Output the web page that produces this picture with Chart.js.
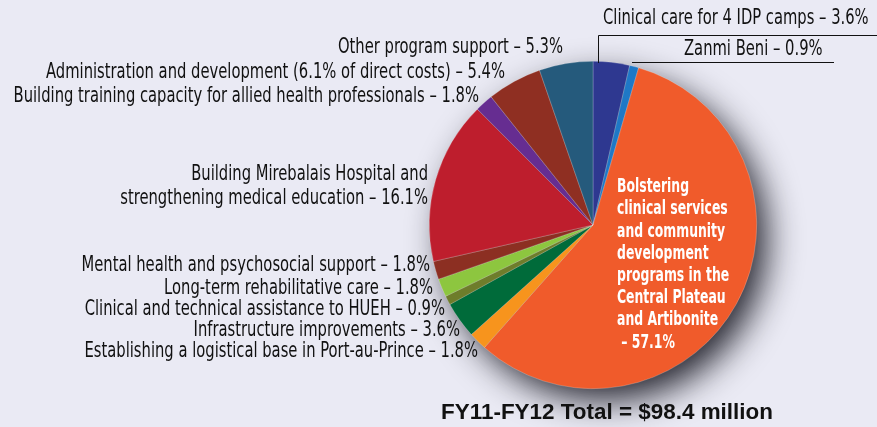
<!DOCTYPE html>
<html>
<head>
<meta charset="utf-8">
<script src="https://cdn.jsdelivr.net/npm/chart.js@4.4.0/dist/chart.umd.min.js"></script>
<style>
  html, body { margin: 0; padding: 0; background: #EAEAF4; }
  #wrap { width: 877px; height: 427px; position: relative; }
</style>
</head>
<body>
<div id="wrap"><canvas id="pie" width="877" height="427"></canvas></div>
<script>
// slices, clockwise from 12 o'clock
const categories = [
    'Clinical care for 4 IDP camps',
    'Zanmi Beni',
    'Bolstering clinical services and community development programs in the Central Plateau and Artibonite',
    'Establishing a logistical base in Port-au-Prince',
    'Infrastructure improvements',
    'Clinical and technical assistance to HUEH',
    'Long-term rehabilitative care',
    'Mental health and psychosocial support',
    'Building Mirebalais Hospital and strengthening medical education',
    'Building training capacity for allied health professionals',
    'Administration and development (6.1% of direct costs)',
    'Other program support'
];
const shares = [3.6, 0.9, 57.1, 1.8, 3.6, 0.9, 1.8, 1.8, 16.1, 1.8, 5.4, 5.3];
const colors = ['#2E3890', '#1F78C6', '#F05B2B', '#F7941D', '#006B3A', '#6E7D2B',
                '#8DC63F', '#8C2F22', '#BE1E2D', '#662D91', '#8F2F22', '#255A7C'];

const totalLabel = 'FY11-FY12 Total = $98.4 million';

// hand placed label text (right aligned x, middle y)
const leftLabels = [
    { lines: ['Other program support – 5.3%'], x: 563, y: 48 },
    { lines: ['Administration and development (6.1% of direct costs) – 5.4%'], x: 505, y: 73 },
    { lines: ['Building training capacity for allied health professionals – 1.8%'], x: 479, y: 97 },
    { lines: ['Building Mirebalais Hospital and', 'strengthening medical education – 16.1%'], x: 428, y: 175 },
    { lines: ['Mental health and psychosocial support – 1.8%'], x: 430, y: 266 },
    { lines: ['Long-term rehabilitative care – 1.8%'], x: 433, y: 289 },
    { lines: ['Clinical and technical assistance to HUEH – 0.9%'], x: 445, y: 310 },
    { lines: ['Infrastructure improvements – 3.6%'], x: 460, y: 331 },
    { lines: ['Establishing a logistical base in Port-au-Prince – 1.8%'], x: 478, y: 352 }
];
const insideLines = ['Bolstering', 'clinical services', 'and community', 'development',
                     'programs in the', 'Central Plateau', 'and Artibonite', ' – 57.1%'];

const labelFont = '20.5px "DejaVu Sans Condensed", "Liberation Sans", sans-serif';
const boldFont = 'bold 20px "DejaVu Sans Condensed", "Liberation Sans", sans-serif';
const narrow = 0.8;      // squeeze to look like a condensed face
const narrowBold = 0.69;

// draw text squeezed horizontally
function squeezed(ctx, text, x, y, sx, align) {
    ctx.save();
    ctx.translate(x, y);
    ctx.scale(sx, 1);
    ctx.textAlign = align;
    ctx.fillText(text, 0, 0);
    ctx.restore();
}

const backdrop = {
    id: 'backdrop',
    beforeDraw(chart) {
        const ctx = chart.ctx;
        ctx.save();
        ctx.fillStyle = '#EAEAF4';
        ctx.fillRect(0, 0, chart.width, chart.height);
        ctx.restore();
    },
    beforeDatasetsDraw(chart) {
        const arc = chart.getDatasetMeta(0).data[0];
        const ctx = chart.ctx;
        ctx.save();
        ctx.shadowColor = 'rgba(15,15,25,0.9)';
        ctx.shadowBlur = 34;
        ctx.shadowOffsetX = 12;
        ctx.shadowOffsetY = 14;
        ctx.fillStyle = '#555';
        ctx.beginPath();
        ctx.arc(arc.x, arc.y, arc.outerRadius - 2, 0, Math.PI * 2);
        ctx.fill();
        ctx.restore();
    }
};

const labels = {
    id: 'labels',
    afterDatasetsDraw(chart) {
        const ctx = chart.ctx;
        ctx.save();
        ctx.fillStyle = '#111';
        ctx.font = labelFont;
        ctx.textBaseline = 'middle';
        leftLabels.forEach(l => {
            l.lines.forEach((t, i) => squeezed(ctx, t, l.x, l.y + i * 24, narrow, 'right'));
        });

        // top right callouts
        squeezed(ctx, 'Clinical care for 4 IDP camps – 3.6%', 603, 19, narrow, 'left');
        squeezed(ctx, 'Zanmi Beni – 0.9%', 684, 50, narrow, 'left');
        ctx.strokeStyle = '#111';
        ctx.lineWidth = 1;
        ctx.beginPath();
        ctx.moveTo(598.5, 63);
        ctx.lineTo(598.5, 35.5);
        ctx.lineTo(877, 35.5);
        ctx.moveTo(632, 62.5);
        ctx.lineTo(834, 62.5);
        ctx.stroke();

        // inside the big slice
        ctx.fillStyle = '#fff';
        ctx.font = boldFont;
        insideLines.forEach((t, i) => squeezed(ctx, t, 617, 187 + i * 22.2, narrowBold, 'left'));

        // total
        ctx.fillStyle = '#111';
        ctx.font = 'bold 22px "Liberation Sans", "DejaVu Sans", sans-serif';
        squeezed(ctx, totalLabel, 607, 413, 1.02, 'center');
        ctx.restore();
    }
};

new Chart(document.getElementById('pie'), {
    type: 'pie',
    data: {
        labels: categories,
        datasets: [{
            data: shares,
            backgroundColor: colors,
            borderColor: 'rgba(255,255,255,0.35)',
            borderWidth: 0.6
        }]
    },
    options: {
        responsive: false,
        animation: false,
        layout: { padding: { left: 429, right: 120, top: 61, bottom: 38 } },
        plugins: {
            legend: { display: false },
            tooltip: { enabled: false }
        }
    },
    plugins: [backdrop, labels]
});
</script>
</body>
</html>
